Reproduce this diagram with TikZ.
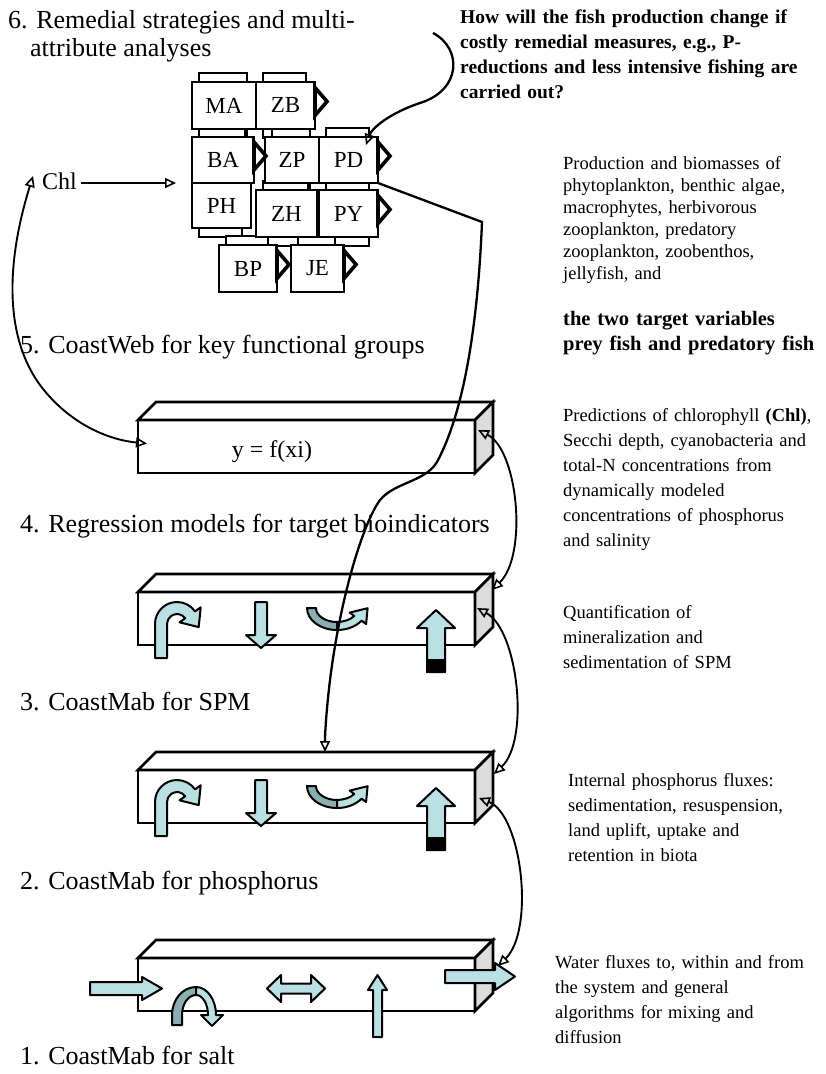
\documentclass[tikz,border=0pt]{standalone}
\usepackage{fontspec}
\setmainfont{Liberation Serif}
\usetikzlibrary{arrows.meta,calc}
\pgfdeclarelayer{behind}
\pgfsetlayers{behind,main}

\definecolor{flowblue}{HTML}{B9E0E2}
\definecolor{flowdark}{HTML}{88AFB2}
\definecolor{facegray}{HTML}{DCDCDC}

\newcommand\fsz[2]{\fontsize{#1}{#2}\selectfont}

\tikzset{
  slabline/.style={line width=2.6pt, line join=miter},
  slabfront/.style={draw, slabline, fill=white, minimum width=337pt, minimum height=53pt, inner sep=0pt, outer sep=0pt},
  gbox/.style={draw, line width=2.2pt, fill=white, inner sep=0pt, outer sep=0pt, font=\fsz{23}{23}},
  backtab/.style={draw, line width=2.8pt, fill=white},
  chev/.style={draw, line width=3.6pt, fill=white, line join=miter},
  icon/.style={draw, line width=2pt, fill=flowblue, line join=round},
  wire/.style={line width=2.3pt},
  thinwire/.style={line width=1.9pt},
  otip/.tip={Triangle[open, length=11pt, width=10pt, line width=1.6pt]},
  stagelabel/.style={anchor=base west, inner sep=0pt, font=\fsz{26}{30}},
  sidenote/.style={anchor=base west, inner sep=0pt, align=left, text width=270pt, font=\fsz{18.5}{25}},
}

% a long box seen in perspective: front face node #1, front top edge at y=#2
\newcommand\drawslab[2]{%
  \node[slabfront, anchor=north west] (#1) at (138,#2) {};
  \draw[slabline, fill=white] (#1.north west) -- ++(18,-18) -- ++(337,0) -- (#1.north east) -- cycle;
  \draw[slabline, fill=facegray] (#1.north east) -- ++(18,-18) -- ++(0,53) -- (#1.south east) -- cycle;
}

% process symbols inside a mass-balance box whose front top edge is at y=#1
\newcommand\mixicons[1]{%
  \begin{scope}[shift={(153,#1+66)}, yscale=-1]
    \draw[icon] (2,0) -- (2,34) arc[start angle=180,end angle=35,radius=22]
      -- (47.7,50.7) -- (45.7,30.9) -- (26.5,35.7) -- (32.2,39.7)
      arc[start angle=35,end angle=180,radius=10] -- (14,0) -- cycle;
  \end{scope}
  \draw[icon] (255,#1+10) -- (267,#1+10) -- (267,#1+43) -- (276,#1+43) -- (261,#1+56)
    -- (246,#1+43) -- (255,#1+43) -- cycle;
  \begin{scope}[shift={(337,#1+16)}, yscale=-1]
    \draw[icon, fill=flowdark] (-30,0) arc[start angle=180,end angle=270,x radius=30,y radius=22]
      -- (0,-14) arc[start angle=270,end angle=180,x radius=21,y radius=14] -- cycle;
    \draw[icon] (0,-22) arc[start angle=270,end angle=325,x radius=30,y radius=22]
      -- (29.1,-16.0) -- (30.6,-0.2) -- (12.7,-4.6) -- (17.2,-8.0)
      arc[start angle=325,end angle=270,x radius=21,y radius=14] -- cycle;
  \end{scope}
  \draw[icon] (436,#1+18) -- (455,#1+36) -- (445,#1+36) -- (445,#1+80) -- (427,#1+80)
    -- (427,#1+36) -- (417,#1+36) -- cycle;
  \filldraw[line width=2pt] (427,#1+68) rectangle (445,#1+80);
}

\begin{document}
\begin{tikzpicture}[x=1pt,y=-1pt]
\useasboundingbox (0,0) rectangle (826,1074);

% ---------- the four stacked model boxes ----------
\drawslab{s1}{420}
\drawslab{s2}{592}
\drawslab{s3}{770}
\drawslab{s4}{958}

\node[inner sep=0pt, font=\fsz{24}{24}] (fx) at (272,452) {y = f(xi)};

\mixicons{592}
\mixicons{770}

% water flows of the salt model
\draw[icon] (90,982) -- (142,982) -- (142,977) -- (162,988.5) -- (142,1000) -- (142,995) -- (90,995) -- cycle;
\begin{scope}[shift={(196,1015)}, yscale=-1]
  \draw[icon, fill=flowdark] (-24,-10) -- (-24,0) arc[start angle=180,end angle=90,x radius=24,y radius=28]
    -- (0,20) arc[start angle=90,end angle=180,x radius=14,y radius=20] -- (-14,-10) -- cycle;
  \draw[icon] (0,28) arc[start angle=90,end angle=0,x radius=20,y radius=28] -- (27,0) -- (16,-11)
    -- (5,0) -- (12,0) arc[start angle=0,end angle=90,x radius=12,y radius=20] -- cycle;
\end{scope}
\draw[icon] (267,988.5) -- (281,975) -- (281,983.5) -- (311,983.5) -- (311,975) -- (325,988.5)
  -- (311,1002) -- (311,993.5) -- (281,993.5) -- (281,1002) -- cycle;
\draw[icon] (377.5,975) -- (387,990) -- (382,990) -- (382,1037) -- (373,1037) -- (373,990) -- (368,990) -- cycle;
\draw[icon] (445,970) -- (495,970) -- (495,963) -- (515,976.5) -- (495,990) -- (495,983) -- (445,983) -- cycle;

% ---------- functional groups of the food web ----------
\node[gbox, minimum width=64pt, minimum height=47pt] (MA) at (224,105.5) {MA};
\node[gbox, minimum width=59pt, minimum height=47pt] (ZB) at (285.5,105.5) {ZB};
\node[gbox, minimum width=62pt, minimum height=46pt] (BA) at (223,160) {BA};
\node[gbox, minimum width=54pt, minimum height=46pt] (ZP) at (292,160) {ZP};
\node[gbox, minimum width=59pt, minimum height=46pt] (PD) at (348.5,160) {PD};
\node[gbox, minimum width=59pt, minimum height=45pt] (PH) at (221.5,205.5) {PH};
\node[gbox, minimum width=61pt, minimum height=47pt] (ZH) at (286.5,213.5) {ZH};
\node[gbox, minimum width=59pt, minimum height=47pt] (PY) at (348.5,213.5) {PY};
\node[gbox, minimum width=58pt, minimum height=47pt] (BP) at (248,268.5) {BP};
\node[gbox, minimum width=53pt, minimum height=47pt] (JE) at (317.5,268.5) {JE};

\begin{pgfonlayer}{behind}
  \foreach \b in {MA,ZB,BA,ZP,PD,PH,ZH,PY}
    \draw[backtab] ($(\b.north west)+(7,-9)$) rectangle ($(\b.south east)+(-9,9)$);
  \foreach \b in {BP,JE}
    \draw[backtab] ($(\b.north west)+(7,-9)$) rectangle ($(\b.south east)+(-9,-4)$);
\end{pgfonlayer}

\foreach \b in {ZB,BA,PD,PY,BP,JE}
  \draw[chev] ($(\b.east)+(0,-18)$) -- ++(12,14) -- ++(-12,14) -- cycle;

% ---------- chlorophyll link ----------
\node[inner sep=2pt, anchor=base west, font=\fsz{24}{24}] (Chl) at (40,189) {Chl};
\coordinate (chlin) at (176,183);
\coordinate (chltip) at (33,176);
\draw[wire, -otip] ([xshift=2pt]Chl.east |- chlin) -- (chlin);
\draw[thinwire, otip-otip] (chltip) .. controls (10,250) and (0,330) .. (40,385)
  .. controls (70,425) and (110,440) .. ($(s1.west)+(9,-3)$);

% ---------- predatory fish to the SPM model ----------
\coordinate (s3top) at (325,752);
\draw[wire, -otip] (PD.south east) -- (482,222) .. controls (478,320) and (465,410) .. (437,462)
  .. controls (425,482) and (395,482) .. (380,500)
  .. controls (362,525) and (340,600) .. (330,680)
  .. controls (327,705) and (325,730) .. (s3top);

% ---------- management question ----------
\coordinate (qfrom) at (433,33);
\draw[wire, -otip] (qfrom) .. controls (462,48) and (462,90) .. (420,103)
  .. controls (390,113) and (372,128) .. ($(PD.north east)+(-12,8)$);

% ---------- links between the model boxes ----------
\draw[thinwire, otip-otip] ($(s1.north east)+(3,10)$) .. controls (518,450) and (528,555) .. ($(s2.north east)+(17,-2)$);
\draw[thinwire, otip-otip] ($(s2.north east)+(2,16)$) .. controls (518,630) and (530,740) .. ($(s3.north east)+(19,4)$);
\draw[thinwire, otip-otip] ($(s3.north east)+(4,28)$) .. controls (522,815) and (535,930) .. ($(s4.north east)+(23,8)$);

% ---------- stage titles ----------
\node[stagelabel] (t6a) at (8,28) {6. Remedial strategies and multi-};
\node[stagelabel] (t6b) at (30,56) {attribute analyses};
\node[stagelabel] (t5) at (20,353) {5. CoastWeb for key functional groups};
\node[stagelabel] (t4) at (20,532) {4. Regression models for target bioindicators};
\node[stagelabel] (t3) at (20,710) {3. CoastMab for SPM};
\node[stagelabel] (t2) at (20,889) {2. CoastMab for phosphorus};
\node[stagelabel] (t1) at (20,1064) {1. CoastMab for salt};

% ---------- explanations ----------
\node[sidenote, text width=366pt, font=\bfseries\fsz{19.5}{25}] (q) at (460,23)
  {How will the fish production change if\\ costly remedial measures, e.g., P-\\ reductions and less intensive fishing are\\ carried out?};
\node[sidenote, font=\fsz{18.5}{22}] (n6) at (563,169)
  {Production and biomasses of\\ phytoplankton, benthic algae,\\ macrophytes, herbivorous\\ zooplankton, predatory\\ zooplankton, zoobenthos,\\ jellyfish, and};
\node[sidenote, font=\bfseries\fsz{20.5}{25}] (n6b) at (563,325)
  {the two target variables\\ prey fish and predatory fish};
\node[sidenote] (n4) at (563,421)
  {Predictions of chlorophyll \textbf{(Chl)},\\ Secchi depth, cyanobacteria and\\ total-N concentrations from\\ dynamically modeled\\ concentrations of phosphorus\\ and salinity};
\node[sidenote] (n3) at (563,618)
  {Quantification of\\ mineralization and\\ sedimentation of SPM};
\node[sidenote] (n2) at (568,786)
  {Internal phosphorus fluxes:\\ sedimentation, resuspension,\\ land uplift, uptake and\\ retention in biota};
\node[sidenote] (n1) at (555,968)
  {Water fluxes to, within and from\\ the system and general\\ algorithms for mixing and\\ diffusion};
\end{tikzpicture}
\end{document}
